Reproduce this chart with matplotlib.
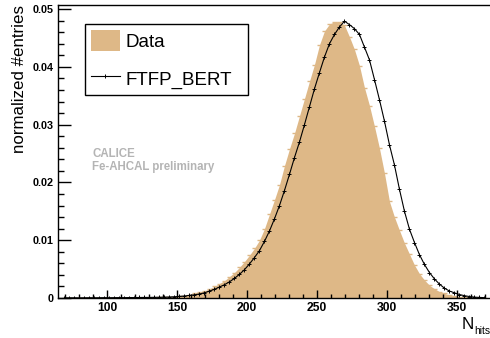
import numpy as np
import matplotlib
matplotlib.use("Agg")
import matplotlib.pyplot as plt
from matplotlib.patches import Patch
from matplotlib.lines import Line2D

# Binning: width 25/7 hits, bins 19..103
bin_width = 25.0 / 7.0
first_bin, last_bin = 19, 103

data_values = [
    0.00001, 0.00002, 0.00002, 0.00002, 0.00002, 0.00003, 0.00003, 0.00003, 0.00003, 0.00004,
    0.00004, 0.00004, 0.00005, 0.00005, 0.00005, 0.00006, 0.00006, 0.00007, 0.00008, 0.00009,
    0.0001, 0.00015, 0.0002, 0.0003, 0.0004, 0.0006, 0.0008, 0.0010, 0.0012, 0.0016,
    0.0020, 0.0025, 0.0030, 0.0037, 0.0044, 0.0053, 0.0063, 0.0074, 0.0086, 0.0100,
    0.0120, 0.0145, 0.0170, 0.0196, 0.0229, 0.0258, 0.0285, 0.0315, 0.0345, 0.0375,
    0.0404, 0.0438, 0.0462, 0.0474, 0.0478, 0.0478, 0.0472, 0.0452, 0.0430, 0.0402,
    0.0364, 0.0333, 0.0297, 0.0259, 0.0216, 0.0167, 0.0140, 0.0117, 0.0095, 0.0076,
    0.0057, 0.0042, 0.0031, 0.0022, 0.0016, 0.0011, 0.0008, 0.0005, 0.0003, 0.0002,
    0.0001, 0.00006, 0.00003, 0.00002, 0.00001,
]

ftfp_bert_values = [
    0.00003, 0.00003, 0.00004, 0.00003, 0.00004, 0.00005, 0.00004, 0.00005, 0.00006, 0.00005,
    0.00006, 0.00007, 0.00006, 0.00008, 0.00007, 0.00009, 0.0001, 0.0001, 0.00012, 0.00013,
    0.00015, 0.00018, 0.00022, 0.00028, 0.00035, 0.00045, 0.00055, 0.0007, 0.0009, 0.0012,
    0.0015, 0.0019, 0.0023, 0.0028, 0.0034, 0.0041, 0.0049, 0.0059, 0.0070, 0.0082,
    0.0098, 0.0116, 0.0137, 0.0160, 0.0186, 0.0214, 0.0243, 0.0270, 0.0300, 0.0331,
    0.0362, 0.0390, 0.0417, 0.0440, 0.0456, 0.0469, 0.0479, 0.0473, 0.0466, 0.0456,
    0.0434, 0.0412, 0.0378, 0.0343, 0.0306, 0.0265, 0.0230, 0.0188, 0.0150, 0.0119,
    0.0096, 0.0075, 0.0058, 0.0044, 0.0033, 0.0024, 0.0017, 0.0012, 0.0009, 0.0006,
    0.0004, 0.00025, 0.00015, 0.0001, 0.00006,
]

x_ticks = [100, 150, 200, 250, 300, 350]
y_ticks = [0, 0.01, 0.02, 0.03, 0.04, 0.05]
y_tick_labels = ["0", "0.01", "0.02", "0.03", "0.04", "0.05"]

centers = (np.arange(first_bin, last_bin + 1) + 0.5) * bin_width

plt.rcParams["font.family"] = ["Liberation Sans", "DejaVu Sans"]
fill_color = "#deb887"
label_gray = "#b4b4b4"

fig = plt.figure(figsize=(4.9, 3.38), dpi=100)
ax = fig.add_axes([58 / 490, 40 / 338, 1 - 58 / 490, 293 / 338])

ax.fill_between(centers, data_values, color=fill_color, lw=0, zorder=1)
ax.errorbar(centers, data_values, xerr=bin_width / 2, fmt="none",
            ecolor=fill_color, elinewidth=1.0, zorder=1)
ax.plot(centers, ftfp_bert_values, color="black", lw=0.8,
        marker="+", ms=3.5, mew=0.7, zorder=3)

ax.set_xlim(65, 373.6)
ax.set_ylim(0, 0.0507)

ax.set_xticks(x_ticks)
ax.set_xticks(np.arange(70, 371, 10), minor=True)
ax.set_yticks(y_ticks)
ax.set_yticklabels(y_tick_labels)
ax.set_yticks(np.arange(0, 0.0507, 0.002), minor=True)

ax.tick_params(axis="both", which="both", direction="in", top=False, right=False,
               width=1.0, color="black")
ax.tick_params(axis="y", which="major", length=9.4, pad=3, labelsize=7.8)
ax.tick_params(axis="y", which="minor", length=4.3)
ax.tick_params(axis="x", which="major", length=6.0, pad=3, labelsize=8.7)
ax.tick_params(axis="x", which="minor", length=2.8)
for lab in ax.get_xticklabels() + ax.get_yticklabels():
    lab.set_fontweight("bold")

for side in ["left", "bottom", "top"]:
    ax.spines[side].set_linewidth(1.0)
ax.spines["right"].set_visible(False)

handles = [
    Patch(facecolor=fill_color, edgecolor="none"),
    Line2D([], [], color="black", lw=0.8, marker="+", ms=3.5, mew=0.7),
]
leg_left = 27 / 432
leg_top = 1 - 19 / 293
leg_width = 163 / 432
leg = ax.legend(handles, ["Data", "FTFP_BERT"], loc="upper left",
                bbox_to_anchor=(leg_left, leg_top - 0.2, leg_width, 0.2),
                mode="expand", fontsize=13.5,
                frameon=True, fancybox=False, edgecolor="black", framealpha=1,
                borderpad=0.3, handlelength=1.55, handleheight=1.4,
                handletextpad=0.3, labelspacing=0.87, borderaxespad=0)
leg.get_frame().set_linewidth(1.0)

ax.text(92 / 490, 1 - 148 / 338, "CALICE\nFe-AHCAL preliminary",
        transform=fig.transFigure, fontsize=8.3, fontweight="bold",
        color=label_gray, ha="left", va="top", linespacing=1.15)

fig.text(19 / 490, 1 - 5 / 338, "normalized #entries", rotation=90,
         ha="center", va="top", fontsize=12.2)

fig.text(461.5 / 490, 1 - 329 / 338, "N", fontsize=12.3,
         ha="left", va="baseline")
fig.text(474 / 490, 1 - 333.5 / 338, "hits", fontsize=7.4,
         ha="left", va="baseline")

fig.savefig("out.png", dpi=100)
